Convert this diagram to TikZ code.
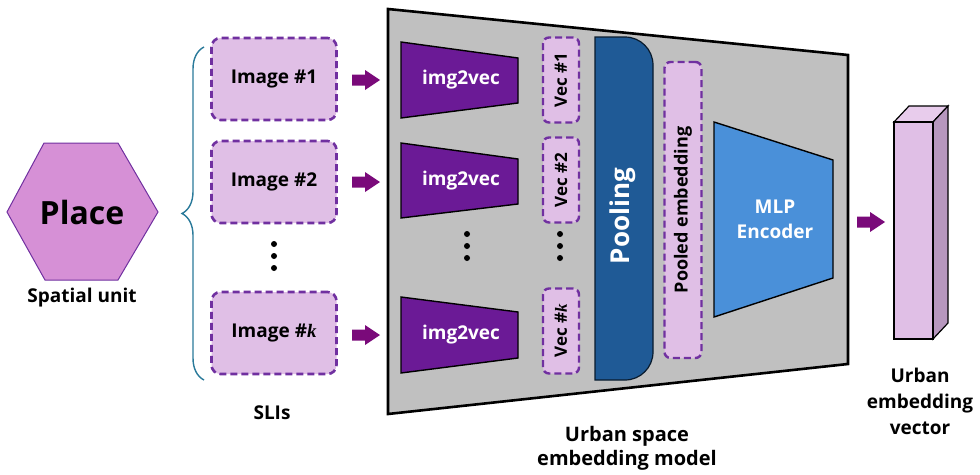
\documentclass[tikz,border=0pt]{standalone}
\usepackage{fontspec}
\setmainfont{Open Sans}
\newfontfamily\kfont{Liberation Serif}
\usetikzlibrary{decorations.pathreplacing}
\definecolor{lilac}{HTML}{E0BFE6}
\definecolor{lilacside}{HTML}{B797BE}
\definecolor{lilactop}{HTML}{E8CCEC}
\definecolor{dpurple}{HTML}{7030A0}
\definecolor{hexfill}{HTML}{D690D6}
\definecolor{encpurple}{HTML}{6B1A96}
\definecolor{arrcol}{HTML}{7A0A7A}
\definecolor{graybox}{HTML}{C0C0C0}
\definecolor{poolblue}{HTML}{1F5A96}
\definecolor{mlpblue}{HTML}{4A90D9}
\definecolor{bracecol}{HTML}{2A7A9A}
\newcommand{\kk}{{\kfont\bfseries\itshape k}}
\tikzset{
  fs/.style 2 args={font=\bfseries\fontsize{#1}{#2}\selectfont},
  imgbox/.style={draw=dpurple, fill=lilac, line width=2.6pt, dash pattern=on 7pt off 4pt,
    rounded corners=9pt, minimum width=125pt, minimum height=82pt, fs={19}{23}},
  vecbox/.style={draw=dpurple, fill=lilac, line width=2.4pt, dash pattern=on 7pt off 4pt,
    rounded corners=6pt, minimum width=36pt, minimum height=85pt},
  fatarrow/.style={fill=arrcol},
  dotc/.style={fill=black, circle, inner sep=0pt, minimum size=6pt},
}
\newcommand{\fatarr}[2]{\fill[fatarrow] (#1,#2-5.5) -- (#1+13,#2-5.5) -- (#1+13,#2-10) -- (#1+28,#2) -- (#1+13,#2+10) -- (#1+13,#2+5.5) -- (#1,#2+5.5) -- cycle;}
\begin{document}
\begin{tikzpicture}[x=1pt,y=-1pt]
\useasboundingbox (0,0) rectangle (980,474);
% hexagon
\draw[fill=hexfill, draw=dpurple, line width=1pt] (7,212) -- (44,143) -- (118,143) -- (158,212) -- (118,280) -- (45,280) -- cycle;
\node[fs={32}{38}] (place) at (82,212) {Place};
\node[fs={19}{23}] (spatial) at (82,298) {Spatial unit};
% brace
\draw[bracecol, line width=1.4pt, decorate, decoration={brace, amplitude=22pt}] (204,380) -- (204,47);
% image boxes
\node[imgbox] (im1) at (274,79) {Image \#1};
\node[imgbox] (im2) at (274,182) {Image \#2};
\node[imgbox] (imk) at (274,333) {Image \#\kk};
\node[dotc] (d1) at (274,244) {};
\node[dotc] (d2) at (274,256) {};
\node[dotc] (d3) at (274,268) {};
\node[fs={19}{23}] (slis) at (272,413) {SLIs};
% arrows
\fatarr{352}{80}
\fatarr{352}{182}
\fatarr{352}{335}
% gray model box
\draw[fill=graybox, line width=2.6pt] (388,9) -- (848,55) -- (848,364) -- (388,414) -- cycle;
% img2vec
\foreach \t/\b/\rt/\rb/\n in {42/118/58/103/1, 143/218/159/204/2, 297/373/312/358/3}{
  \draw[fill=encpurple, line width=1.4pt] (401,\t) -- (518,\rt) -- (518,\rb) -- (401,\b) -- cycle;
  \node[fs={19}{23}, text=white] (enc\n) at (461,{(\t+\b)/2}) {img2vec};
}
\node[dotc] at (467,234) {};
\node[dotc] at (467,246) {};
\node[dotc] at (467,258) {};
% vec boxes
\node[vecbox] (v1) at (561,80) {};
\node[fs={17}{20}, rotate=90] at (v1) {Vec \#1};
\node[vecbox] (v2) at (561,180) {};
\node[fs={17}{20}, rotate=90] at (v2) {Vec \#2};
\node[vecbox] (vk) at (561,331) {};
\node[fs={17}{20}, rotate=90] at (vk) {Vec \#\kk};
\node[dotc] at (560,234) {};
\node[dotc] at (560,246) {};
\node[dotc] at (560,258) {};
% pooling
\draw[fill=poolblue, draw=black!70!poolblue, line width=1.2pt] (595,37) -- (625,37) arc[start angle=-90, end angle=0, radius=28] -- (653,352) arc[start angle=0, end angle=90, radius=28] -- (595,380) -- cycle;
\node[fs={26}{30}, text=white, rotate=90] (pool) at (623,216) {Pooling};
% pooled embedding
\node[vecbox, minimum height=296pt, minimum width=37pt] (pe) at (683,210) {};
\node[fs={18}{22}, rotate=90] at (pe) {Pooled embedding};
% MLP
\draw[fill=mlpblue, line width=1.4pt] (714,122) -- (833,160) -- (833,278) -- (714,317) -- cycle;
\node[fs={19}{25}, text=white, align=center] (mlp) at (775,219) {MLP\\Encoder};
\fatarr{857}{222}
% cuboid
\draw[fill=lilactop, line width=1.2pt] (894,122) -- (909,106) -- (948,106) -- (933,122) -- cycle;
\draw[fill=lilacside, line width=1.2pt] (933,122) -- (948,106) -- (948,323) -- (933,339) -- cycle;
\draw[fill=lilac, line width=1.2pt] (894,122) rectangle (933,339);
\node[fs={19}{26}, align=center] (uev) at (920,401) {Urban\\embedding\\vector};
\node[fs={20}{24}, align=center] (usem) at (627,448) {Urban space\\embedding model};
\end{tikzpicture}
\end{document}
